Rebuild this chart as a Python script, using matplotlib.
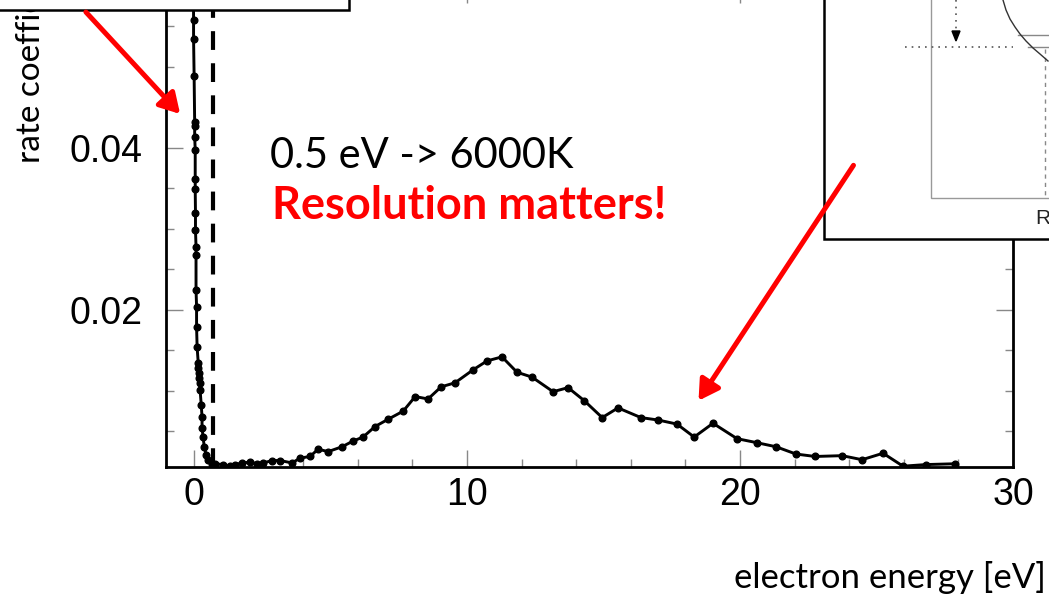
import matplotlib
matplotlib.use("Agg")
import matplotlib.pyplot as plt
from matplotlib.patches import Rectangle, FancyArrowPatch
from matplotlib.ticker import MultipleLocator

# rate coefficient vs electron energy: sharp low-energy peak + broad hump
peak_energy = [-0.03, -0.02, -0.02, 0.00, 0.02, 0.02, 0.02, 0.04, 0.04, 0.04,
               0.05, 0.05, 0.07, 0.07, 0.07, 0.09, 0.09, 0.11, 0.15, 0.15,
               0.18, 0.18, 0.22, 0.22, 0.26, 0.29, 0.29, 0.33, 0.37, 0.44,
               0.51, 0.66]
peak_rate = [0.0700, 0.0558, 0.0535, 0.0489, 0.0432, 0.0427, 0.0414, 0.0398,
             0.0362, 0.0349, 0.0320, 0.0299, 0.0278, 0.0268, 0.0225, 0.0204,
             0.0179, 0.0154, 0.0135, 0.0128, 0.0122, 0.0116, 0.0110, 0.0101,
             0.0083, 0.0068, 0.0054, 0.0043, 0.0031, 0.0021, 0.0015, 0.0010]

hump_energy = [0.77, 1.06, 1.32, 1.50, 1.76, 2.05, 2.31, 2.53, 2.86, 3.15,
               3.59, 3.88, 4.25, 4.54, 4.91, 5.42, 5.82, 6.19, 6.63, 7.11,
               7.66, 8.10, 8.57, 9.05, 9.56, 10.22, 10.73, 11.28, 11.83, 12.38,
               13.15, 13.70, 14.29, 14.95, 15.53, 16.37, 17.00, 17.69, 18.32,
               19.01, 19.89, 20.62, 21.32, 22.05, 22.75, 23.74, 24.47, 25.24,
               25.97, 26.81, 27.88]
hump_rate = [0.0010, 0.0009, 0.0007, 0.0009, 0.0011, 0.0012, 0.0010, 0.0011,
             0.0014, 0.0014, 0.0011, 0.0017, 0.0019, 0.0028, 0.0025, 0.0031,
             0.0038, 0.0043, 0.0056, 0.0065, 0.0075, 0.0093, 0.0090, 0.0105,
             0.0110, 0.0126, 0.0137, 0.0142, 0.0123, 0.0117, 0.0099, 0.0104,
             0.0088, 0.0067, 0.0079, 0.0067, 0.0064, 0.0059, 0.0043, 0.0060,
             0.0041, 0.0036, 0.0031, 0.0022, 0.0019, 0.0020, 0.0015, 0.0023,
             0.0007, 0.0009, 0.0010]

threshold = 0.68  # eV, dashed marker
energy = peak_energy + hump_energy
rate = peak_rate + hump_rate

SLIDE = "Lato"
PLOT = "Liberation Sans"
RED = "#ff0000"

fig = plt.figure(figsize=(10.49, 5.96), dpi=100)
W, H = 1049, 596

ax = fig.add_axes([166 / W, 1 - 467 / H, 847 / W, 481 / H])
ax.plot(energy, rate, "-o", color="black", lw=2.1, ms=4.8, zorder=3)
ax.axvline(threshold, color="black", lw=3.0, dashes=(4.5, 3.2), zorder=2)
ax.set_xlim(-1.03, 30)
ax.set_ylim(0.0006, 0.06)

ax.xaxis.set_major_locator(MultipleLocator(10))
ax.xaxis.set_minor_locator(MultipleLocator(2))
ax.yaxis.set_major_locator(MultipleLocator(0.02))
ax.yaxis.set_minor_locator(MultipleLocator(0.005))
ax.yaxis.set_major_formatter(plt.FuncFormatter(lambda v, p: f"{v:.2f}"))
ax.tick_params(which="both", direction="in", top=True, right=True,
               color="#888888", width=1.0)
ax.tick_params(which="major", length=12)
ax.tick_params(which="minor", length=6)
ax.tick_params(axis="x", labelsize=27, pad=7)
ax.tick_params(axis="y", labelsize=27, pad=17)
for lab in ax.get_xticklabels() + ax.get_yticklabels():
    lab.set_fontfamily(PLOT)
for s in ax.spines.values():
    s.set_linewidth(2.0)
    s.set_color("black")

# overlay in pixel coordinates for the slide annotations
ov = fig.add_axes([0, 0, 1, 1], zorder=5)
ov.set_xlim(0, W)
ov.set_ylim(H, 0)
ov.axis("off")
ov.patch.set_alpha(0)

ov.text(270, 168, "0.5 eV -> 6000K", fontsize=30, family=SLIDE,
        color="black", va="baseline")
ov.text(272, 219, "Resolution matters!", fontsize=32.5, family=SLIDE,
        weight="bold", color=RED, va="baseline")
ov.text(1046, 588, "electron energy [eV]", fontsize=25, family=SLIDE,
        ha="right", va="baseline")
ov.text(40, 163, "rate coefficient", fontsize=24, family=SLIDE,
        rotation=90, rotation_mode="anchor", ha="left", va="baseline")

# top-left caption box
ov.add_patch(Rectangle((-10, -40), 359, 50, facecolor="white",
                       edgecolor="black", lw=1.8, zorder=6, clip_on=False))

# top-right inset figure
ov.add_patch(Rectangle((824, -40), 260, 279, facecolor="white",
                       edgecolor="black", lw=1.8, zorder=6, clip_on=False))
ov.add_patch(Rectangle((931, -40), 150, 238, facecolor="none",
                       edgecolor="#999999", lw=1.0, zorder=7, clip_on=False))
ov.plot([905, 1013], [47, 47], ls=(0, (1, 3)), color="#555555", lw=1.2, zorder=7)
ov.plot([956, 956], [0, 32], ls=(0, (1, 3)), color="#555555", lw=1.2, zorder=7)
ov.add_patch(plt.Polygon([[952, 31], [960, 31], [956, 41]], color="black",
                         zorder=7))
ov.plot([1018, 1060], [35, 35], color="#888888", lw=1.0, zorder=7)
ov.plot([1028, 1060], [47, 47], color="#888888", lw=1.0, zorder=7)
ov.plot([1045, 1045], [49, 198], ls=(0, (3, 3)), color="#888888", lw=1.0,
        zorder=7)
curve_x = [1003, 1006, 1010, 1015, 1020, 1026, 1033, 1040, 1048]
curve_y = [0, 10, 19, 27, 34, 41, 48, 54, 61]
ov.plot(curve_x, curve_y, color="#333333", lw=1.0, zorder=7)
ov.text(1035, 224, "R", fontsize=15, family=PLOT, color="#222222",
        va="baseline", zorder=7)

# red pointer arrows, drawn over the boxes
for (x0, y0), (x1, y1) in [((84, 10), (182, 116)), ((855, 163), (697, 403))]:
    ov.add_patch(FancyArrowPatch((x0, y0), (x1, y1), color=RED, lw=3.6,
                                 arrowstyle="-|>,head_length=0.6,head_width=0.35",
                                 mutation_scale=20, zorder=8, clip_on=False))

fig.savefig("out.png", dpi=100)
